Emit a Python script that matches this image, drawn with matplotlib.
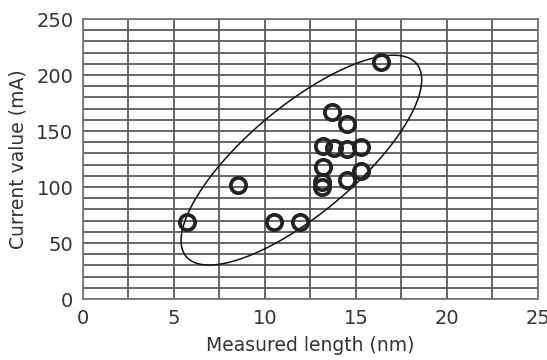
import numpy as np
import matplotlib
matplotlib.use("Agg")
import matplotlib.pyplot as plt

# measured points (nm, mA)
length_nm = [5.7, 8.5, 10.5, 11.9, 16.4, 13.7, 14.5, 13.2, 13.8, 14.5, 15.25,
             13.2, 13.15, 13.15, 14.5, 15.25]
current_mA = [69, 102, 69, 68.5, 212, 167, 156, 136.5, 134.5, 133.5, 136,
              118, 104.5, 100, 106, 114.5]

x_ticks = [0, 5, 10, 15, 20, 25]
y_ticks = [0, 50, 100, 150, 200, 250]

# enclosing ellipse (centre + conjugate half-axes, in data units)
ell_center = (12.0, 124.0)
ell_u = (6.33, 86.1)
ell_v = (-1.91, 36.9)

fig = plt.figure(figsize=(5.47, 3.6), dpi=100)
ax = fig.add_axes([0.1517, 0.1694, 0.8318, 0.7778])

ax.set_xlim(0, 25)
ax.set_ylim(0, 250)
ax.set_xticks(x_ticks)
ax.set_yticks(y_ticks)
ax.set_xticks(np.arange(0, 25.01, 2.5), minor=True)
ax.set_yticks(np.arange(0, 250.1, 10), minor=True)
ax.grid(True, which='both', color='#5a5a5a', linewidth=1.3)
ax.tick_params(which='both', length=0, labelsize=14, labelcolor='#333333', pad=7)
for s in ax.spines.values():
    s.set_color('#777777')
    s.set_linewidth(1.3)
ax.set_axisbelow(True)

t = np.linspace(0, 2*np.pi, 400)
ex = ell_center[0] + ell_u[0]*np.cos(t) + ell_v[0]*np.sin(t)
ey = ell_center[1] + ell_u[1]*np.cos(t) + ell_v[1]*np.sin(t)
ax.plot(ex, ey, color='#111111', linewidth=1.1, clip_on=False)

ax.plot(length_nm, current_mA, linestyle='none', marker='o', markersize=11,
        markerfacecolor='none', markeredgecolor='#222222', markeredgewidth=2.7,
        clip_on=False)

ax.set_xlabel('Measured length (nm)', fontsize=13.5, color='#333333', labelpad=6)
ax.set_ylabel('Current value (mA)', fontsize=13.5, color='#333333', labelpad=6)

fig.savefig('out.png', dpi=100)
